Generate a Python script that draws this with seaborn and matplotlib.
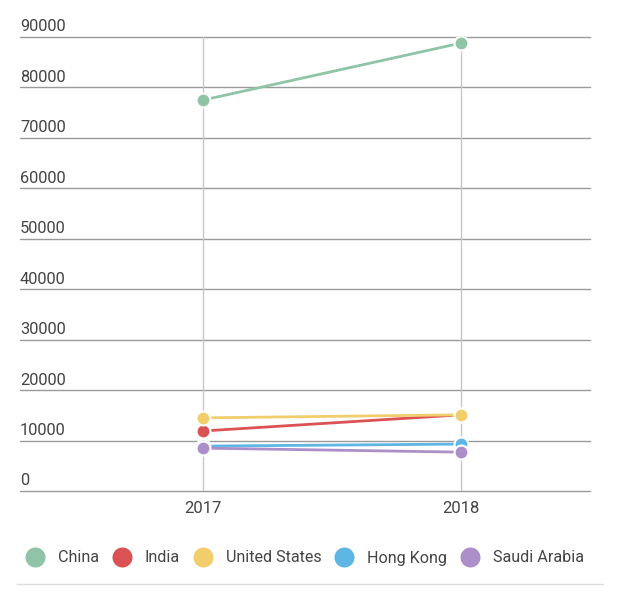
import pandas as pd
import matplotlib.pyplot as plt
import seaborn as sns
from matplotlib.lines import Line2D
from matplotlib.transforms import blended_transform_factory

# Data
years = ['2017', '2018']
countries = ['China', 'India', 'United States', 'Hong Kong', 'Saudi Arabia']
china = [77500, 88800]
india = [11900, 15100]
united_states = [14500, 15100]
hong_kong = [8900, 9300]
saudi_arabia = [8500, 7700]
colors = ['#8fc4a6', '#db5254', '#f2cd6c', '#5db6e4', '#ac8fc8']

values = [china, india, united_states, hong_kong, saudi_arabia]
df = pd.DataFrame(
    [(c, y, v) for c, vals in zip(countries, values) for y, v in zip(years, vals)],
    columns=['country', 'year', 'value']
)

sns.set_style('white')
plt.rcParams['font.family'] = ['Roboto', 'DejaVu Sans']

fig = plt.figure(figsize=(6.26, 5.99), dpi=100)
ax = fig.add_axes([20 / 626, 1 - 491 / 599, 570 / 626, 454 / 599])

sns.lineplot(
    data=df, x='year', y='value', hue='country', hue_order=countries,
    palette=colors, marker='o', markersize=10, markeredgecolor='white',
    markeredgewidth=1.5, linewidth=2, ax=ax, legend=False, zorder=3
)

ax.set_xlim(-0.71, 1.5)
ax.set_ylim(0, 90000)
ax.set_yticks(range(0, 90001, 10000))
ax.set_yticklabels([])
ax.tick_params(axis='y', length=0)
ax.tick_params(axis='x', length=0, labelsize=12, labelcolor='#444444', pad=7)
ax.set_xlabel('')
ax.set_ylabel('')
for s in ax.spines.values():
    s.set_visible(False)

# horizontal gridlines with labels sitting above them
tr = blended_transform_factory(ax.transAxes, ax.transData)
for t in ax.get_yticks():
    ax.axhline(t, color='#9a9a9a', linewidth=1, zorder=1, clip_on=False)
    ax.text(0, t + 500, f'{int(t)}', transform=tr, ha='left', va='bottom',
            fontsize=11.8, color='#444444')

# vertical lines at categories
for i in range(len(years)):
    ax.axvline(i, color='#c8c8c8', linewidth=1, zorder=1)

handles = [Line2D([], [], linestyle='', marker='o', markersize=14.4,
                  markerfacecolor=c, markeredgecolor='none') for c in colors]
fig.legend(handles, countries, loc='center left', bbox_to_anchor=(25 / 626, 1 - 558 / 599),
           ncol=5, frameon=False, fontsize=11.6, handletextpad=0.8,
           columnspacing=0.8, labelcolor='#444444', handlelength=1.24,
           borderaxespad=0, borderpad=0)

fig.add_artist(Line2D([17 / 626, 603 / 626], [1 - 584 / 599, 1 - 584 / 599],
                      color='#dddddd', linewidth=1, transform=fig.transFigure))

fig.savefig('out.png', dpi=100)
